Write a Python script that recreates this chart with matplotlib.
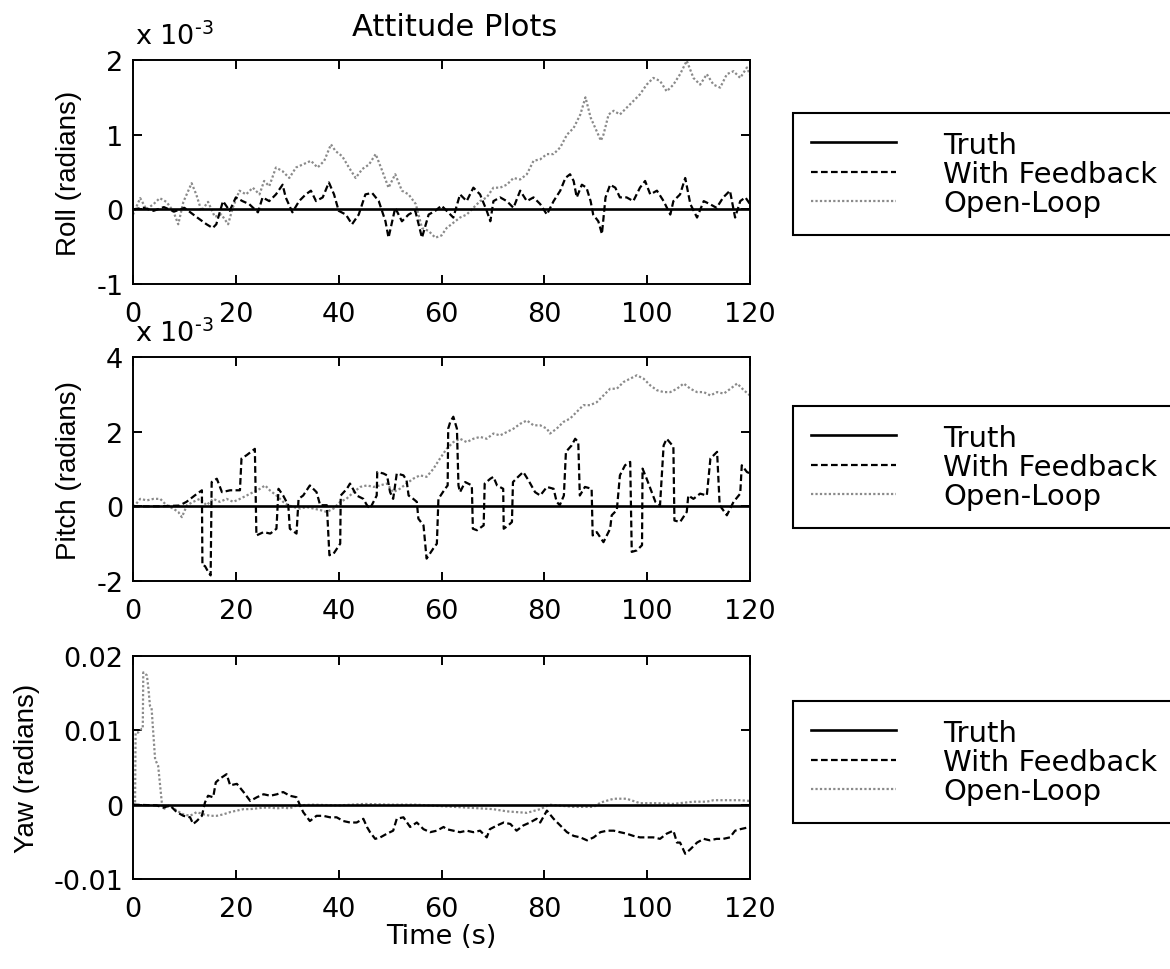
import matplotlib
matplotlib.use('Agg')
import matplotlib.pyplot as plt

plt.rcParams['font.family'] = ['DejaVu Sans']
plt.rcParams['axes.unicode_minus'] = False

# Time axis limits / ticks (seconds)
time_ticks = [0, 20, 40, 60, 80, 100, 120]

# Truth is zero for every axis
truth_t = [0, 120]
truth_v = [0, 0]

# Roll, in units of 1e-3 rad
roll_fb_t = [0, 2, 4, 6, 8, 10, 12.5, 14.3, 15.5, 16.2, 17.5, 18.8, 20, 21.3, 22.6, 24.3, 25.2, 26.5,
             27.8, 29.1, 29.7, 31, 32.3, 33.6, 34.6, 35.6, 36.9, 38.1, 39.1, 40, 41.4, 42.6, 43.9, 45.2,
             46.5, 47.8, 49.1, 49.7, 51, 52.3, 53.6, 54.9, 56.2, 57.5, 58.8, 60, 61, 62.3, 63.6, 64.9,
             66.2, 67.5, 68.8, 69.5, 70.1, 71.4, 72.7, 74, 75.3, 76.6, 77.9, 79.2, 80.5, 81.8, 83.1, 84.1,
             85, 85.7, 86.3, 87.3, 88.2, 89, 89.5, 90.5, 91.2, 91.9, 92.8, 93.8, 94.7, 96, 97.3, 98.6,
             99.6, 100.6, 101.9, 103.2, 104.5, 105.1, 106.4, 107.4, 108.4, 109.7, 111, 112.2, 113.5,
             114.8, 116.1, 117.1, 118.1, 119.1, 120]
roll_fb = [0, 0.02, -0.02, 0.03, -0.03, 0.02, -0.11, -0.2, -0.25, -0.2, 0.11, -0.02, 0.16, 0.11, 0.07,
           -0.04, 0.16, 0.11, 0.2, 0.33, 0.16, -0.04, 0.11, 0.2, 0.25, 0.11, 0.16, 0.36, 0.2, -0.02, -0.07,
           -0.2, -0.07, 0.2, 0.22, 0.11, -0.16, -0.38, 0.02, -0.16, -0.07, -0.02, -0.38, -0.07, -0.02, 0.05,
           -0.02, -0.11, 0.2, 0.11, 0.29, 0.2, -0.02, -0.16, 0.11, 0.16, 0.11, 0.02, 0.25, 0.11, 0.16, 0.07,
           -0.07, 0.11, 0.25, 0.42, 0.47, 0.38, 0.16, 0.33, 0.29, 0.11, -0.07, -0.16, -0.33, 0.16, 0.33,
           0.29, 0.16, 0.16, 0.11, 0.29, 0.38, 0.2, 0.25, 0.11, -0.07, 0.11, 0.2, 0.42, 0.07, -0.11, 0.11,
           0.07, 0.02, 0.16, 0.25, -0.11, 0.11, 0.16, 0.07]
roll_ol_t = [0, 1.4, 2.6, 4, 5.2, 6.5, 7.8, 8.8, 9.8, 11.4, 12.3, 13.3, 14.6, 15.9, 17.2, 18.5, 19.4, 20.7,
             22, 23.3, 24.6, 25.5, 26.5, 27.8, 29.1, 30.4, 31.7, 33, 34.6, 35.9, 37.2, 38.5, 39.4, 40.7,
             42, 43.3, 44.6, 45.9, 47.2, 48.5, 49.7, 51, 52.3, 53.6, 55, 56.2, 57.5, 58.8, 60, 61, 62.3,
             63.6, 64.9, 66.2, 67.5, 68.8, 70.1, 71.4, 72.7, 74, 75.3, 76.6, 77.9, 79.2, 80.5, 81.8, 83.1,
             84.4, 85.7, 87, 88, 89, 89.9, 91, 91.5, 92.5, 93.5, 94.7, 96, 97.3, 98.6, 99.9, 101.2, 102.5,
             103.8, 105.1, 106.4, 107.7, 109, 110.3, 111.6, 112.9, 114.2, 115.5, 116.8, 118.1, 119.4, 120]
roll_ol = [-0.07, 0.15, 0, 0.07, 0.15, 0.1, -0.02, -0.2, 0.1, 0.35, 0.2, -0.02, 0.1, -0.1, -0.07, -0.2,
           0.02, 0.25, 0.2, 0.29, 0.2, 0.38, 0.31, 0.56, 0.51, 0.42, 0.56, 0.6, 0.65, 0.56, 0.65, 0.87, 0.78,
           0.71, 0.56, 0.42, 0.54, 0.6, 0.74, 0.51, 0.29, 0.47, 0.25, 0.2, 0.07, -0.25, -0.29, -0.38, -0.35,
           -0.25, -0.18, -0.11, -0.07, 0.02, 0.11, 0.16, 0.29, 0.29, 0.33, 0.42, 0.4, 0.47, 0.65, 0.67, 0.74,
           0.74, 0.83, 1.0, 1.09, 1.27, 1.5, 1.23, 1.09, 0.92, 1.0, 1.27, 1.32, 1.27, 1.36, 1.45, 1.54, 1.67,
           1.76, 1.72, 1.58, 1.67, 1.81, 1.99, 1.76, 1.67, 1.81, 1.67, 1.63, 1.81, 1.85, 1.76, 1.9, 1.8]

# Pitch, in units of 1e-3 rad
pitch_fb_t = [0, 5, 9, 10.4, 12, 13.4, 13.5, 14, 14.6, 15.1, 15.3, 16.3, 17.3, 18.9, 20.8, 21.1, 22.1,
              23.7, 24, 25.4, 26.7, 27.9, 28.3, 29.2, 30.2, 30.5, 31.8, 32.2, 33.1, 34.4, 35.7, 36.4, 37.7,
              38.2, 39, 40.3, 40.4, 41.6, 42.2, 43.5, 44.8, 45.5, 46.1, 47.4, 47.5, 48.7, 49.4, 50, 50.6,
              51.3, 52.6, 53.2, 53.6, 54.5, 55.2, 55.5, 56.5, 57.1, 58.4, 59.1, 59.4, 60.7, 61.2, 61.3,
              61.7, 62.3, 63, 63.3, 63.6, 64.6, 65.9, 66.1, 66.9, 68.2, 68.4, 69.5, 70.1, 70.8, 72, 72.1,
              73, 73.7, 73.9, 74.9, 75.9, 76.9, 78.2, 79.2, 80.5, 81.8, 82.4, 83, 83.8, 84.2, 85.3, 86,
              86.6, 86.9, 87.9, 89.2, 89.4, 90.2, 91.5, 92.8, 93.1, 94.1, 94.7, 95.7, 96.7, 97, 98, 99,
              99.1, 99.9, 100.9, 101.6, 102.5, 103.2, 103.8, 105.1, 105.3, 106.4, 107.7, 108, 109, 110.3,
              111.6, 112.3, 113.6, 114.1, 115.5, 116.8, 118.1, 118.4, 119.4, 120]
pitch_fb = [0, 0, 0.02, 0.12, 0.29, 0.43, -1.58, -1.6, -1.75, -1.85, 0.65, 0.74, 0.38, 0.43, 0.43, 1.28,
            1.37, 1.54, -0.78, -0.69, -0.73, -0.6, 0.47, 0.29, 0.03, -0.6, -0.73, 0.2, 0.29, 0.56, 0.38,
            0.03, 0.03, -1.31, -1.27, -1.0, 0.29, 0.47, 0.61, 0.29, 0.2, 0.03, -0.06, 0.29, 0.92, 0.88, 0.83,
            0.38, 0.2, 0.88, 0.83, 0.7, 0.29, 0.2, 0.12, -0.33, -0.51, -1.4, -1.13, -1.0, 0.2, 0.47, 0.56,
            2.08, 2.26, 2.4, 2.08, 0.56, 0.38, 0.65, 0.56, -0.6, -0.64, -0.51, 0.61, 0.74, 0.79, 0.56, 0.47,
            -0.6, -0.51, -0.42, 0.65, 0.79, 0.92, 0.7, 0.38, 0.29, 0.52, 0.47, 0.12, 0.03, 0.29, 1.46, 1.63,
            1.81, 1.72, 0.29, 0.52, 0.47, -0.78, -0.69, -0.96, -0.6, -0.24, -0.1, 0.83, 1.1, 1.19, -1.22,
            -1.18, -1.04, 1.01, 0.74, 0.38, 0.12, 0.03, 1.63, 1.81, 1.6, -0.38, -0.42, -0.15, 0.29, 0.2,
            0.34, 0.29, 1.28, 1.46, 0.03, -0.24, 0.12, 0.34, 1.1, 0.92, 0.88]
pitch_ol_t = [0, 0.4, 1.4, 2.7, 4, 5.3, 6.5, 7.8, 8.8, 9.5, 10.5, 11.7, 13, 14.3, 15.6, 16.9, 18.2, 19.5,
              20.8, 22.1, 23.4, 24.7, 25.7, 26.6, 27.9, 29.2, 30.2, 31.2, 32.5, 33.8, 35.1, 36.4, 37.7, 39,
              40.3, 41.5, 42.9, 44.2, 45.5, 46.8, 48, 49.4, 50.6, 51.9, 53.2, 54.5, 55.8, 57.1, 58.4, 59.7,
              61, 62.3, 63.6, 64.9, 66.2, 67.5, 68.8, 70.1, 71.4, 72.7, 74, 75.3, 76.6, 77.9, 79.2, 80.5,
              81.1, 82.4, 83.7, 85, 86.3, 87.6, 88.9, 90.2, 91.5, 92.8, 94.1, 95.4, 96.7, 98, 99.3, 100.6,
              101.9, 103.2, 104.5, 105.8, 107.1, 108.4, 109.7, 111, 112.3, 113.6, 114.9, 116.2, 117.5,
              118.8, 120]
pitch_ol = [0, 0.03, 0.2, 0.16, 0.2, 0.2, 0.03, -0.06, -0.15, -0.29, 0.03, 0.12, 0.2, 0.03, 0.2, 0.12,
            0.2, 0.12, 0.2, 0.29, 0.38, 0.47, 0.56, 0.43, 0.29, 0.12, 0.03, -0.02, -0.06, -0.02, -0.06, -0.1,
            -0.15, -0.06, 0.12, 0.2, 0.38, 0.52, 0.56, 0.52, 0.56, 0.61, 0.38, 0.47, 0.61, 0.74, 0.83, 0.79,
            1.0, 1.28, 1.54, 1.72, 1.81, 1.72, 1.81, 1.86, 1.81, 1.95, 1.9, 1.99, 2.08, 2.21, 2.3, 2.17,
            2.17, 2.08, 1.95, 2.08, 2.26, 2.35, 2.53, 2.71, 2.71, 2.79, 2.97, 3.15, 3.15, 3.33, 3.42, 3.51,
            3.42, 3.24, 3.11, 3.06, 3.06, 3.15, 3.29, 3.15, 3.06, 3.06, 2.97, 3.06, 3.02, 3.15, 3.29, 3.11,
            2.97]

# Yaw, rad
yaw_fb_t = [0, 4.6, 5.9, 7.2, 8.5, 9.8, 11.1, 11.7, 12.4, 13.4, 14, 14.6, 15.6, 16.1, 16.9, 18.2, 18.9,
            20.2, 21.5, 22.8, 24.1, 25.4, 26.7, 28, 29.2, 30.5, 31.8, 32.5, 33.1, 34.4, 35.7, 37, 38.3,
            39.6, 40.9, 42.2, 43.5, 44.8, 45.5, 46.1, 47.1, 48.1, 49.4, 50.6, 51.3, 52.6, 53.9, 55.2,
            56.5, 57.8, 59.1, 60.4, 61, 62.3, 63.6, 64.9, 66.2, 67.5, 68.8, 69.4, 70.8, 72.1, 73.4, 74.6,
            75.9, 77.2, 78.5, 79.2, 80.5, 81.8, 83.1, 84.4, 85.7, 87, 88.3, 89.6, 90.9, 92.2, 93.5, 94.7,
            96, 97.3, 98.6, 99.9, 101.2, 102.5, 103.8, 105.1, 105.8, 106.4, 107.4, 108.4, 109.7, 111,
            112.2, 113.5, 114.8, 116.1, 117.1, 118.1, 120]
yaw_fb = [0, -0.0001, -0.0004, -0.0001, -0.001, -0.0015, -0.0017, -0.0026, -0.0022, -0.0015, 0.0003,
          0.0012, 0.001, 0.003, 0.0035, 0.0041, 0.0026, 0.0028, 0.0017, 0.0005, 0.001, 0.0014, 0.0012,
          0.0014, 0.0017, 0.0012, 0.001, -0.0001, -0.001, -0.0022, -0.0015, -0.0015, -0.0017, -0.0017,
          -0.0022, -0.0024, -0.0024, -0.0019, -0.003, -0.0037, -0.0046, -0.0044, -0.0039, -0.0035,
          -0.0019, -0.0017, -0.003, -0.0024, -0.0033, -0.0037, -0.0035, -0.003, -0.0033, -0.0035,
          -0.0037, -0.0035, -0.0037, -0.0035, -0.0044, -0.0033, -0.0028, -0.0024, -0.0026, -0.0035,
          -0.0028, -0.0024, -0.0019, -0.0024, -0.0008, -0.0019, -0.0028, -0.0037, -0.0042, -0.0044,
          -0.0048, -0.0044, -0.0037, -0.0035, -0.0035, -0.0037, -0.0039, -0.0042, -0.0044, -0.0044,
          -0.0044, -0.0046, -0.0039, -0.0035, -0.0051, -0.0051, -0.0066, -0.006, -0.0051, -0.0046,
          -0.0048, -0.0046, -0.0046, -0.0044, -0.0035, -0.0033, -0.003]
yaw_ol_t = [0, 0.4, 0.5, 1, 1.7, 1.9, 2, 2.7, 3, 3.3, 3.6, 4.3, 4.9, 5.6, 5.9, 7.2, 8.5, 9.8, 11.1, 12.4,
            13.7, 15, 16.3, 17.6, 18.9, 20.2, 21.5, 22.8, 24.1, 25.4, 26.7, 28, 29.2, 30.5, 31.8, 35, 40,
            45, 50, 55, 60, 65, 70, 72.7, 76.6, 79.2, 81, 85.7, 89.6, 91, 93.5, 96, 98.6, 102, 105, 109,
            111.6, 112.9, 115, 118, 120]
yaw_ol = [0, 0, 0.0097, 0.0097, 0.0102, 0.0102, 0.0178, 0.0174, 0.0156, 0.0133, 0.0131, 0.0061, 0.0052,
          0.0003, -0.0006, -0.0001, -0.0008, -0.0013, -0.0015, -0.001, -0.0013, -0.0015, -0.0015,
          -0.0013, -0.001, -0.0008, -0.0006, -0.0006, -0.0005, -0.0004, -0.0004, -0.0005, -0.0004,
          -0.0005, -0.0001, 0, -0.0001, 0.0001, 0, 0, -0.0002, -0.0004, -0.0006, -0.0009, -0.0011,
          -0.0006, 0, -0.0003, -0.0003, 0.0003, 0.0008, 0.0008, 0.0002, 0.0002, 0.0001, 0.0004, 0.0004,
          0.0006, 0.0006, 0.0006, 0.0005]

ylabels = ['Roll (radians)', 'Pitch (radians)', 'Yaw (radians)']
yticks = [[-1, 0, 1, 2], [-2, 0, 2, 4], [-0.01, 0, 0.01, 0.02]]
yticklabels = [['-1', '0', '1', '2'], ['-2', '0', '2', '4'], ['-0.01', '0', '0.01', '0.02']]
legend_labels = ['Truth', 'With Feedback', 'Open-Loop']

series = [(roll_fb_t, roll_fb, roll_ol_t, roll_ol),
          (pitch_fb_t, pitch_fb, pitch_ol_t, pitch_ol),
          (yaw_fb_t, yaw_fb, yaw_ol_t, yaw_ol)]

fig = plt.figure(figsize=(11.7, 9.7), dpi=100)
W, H = 1170.0, 970.0
# pixel boxes of the three axes (top, bottom)
boxes = [(61, 285), (358, 582), (657, 880)]
legend_centers = [175, 468, 763]

for i, (top, bot) in enumerate(boxes):
    ax = fig.add_axes([133 / W, 1 - bot / H, 617 / W, (bot - top) / H])
    fb_t, fb, ol_t, ol = series[i]
    ax.plot(truth_t, truth_v, color='black', lw=1.9, zorder=4, label=legend_labels[0])
    ax.plot(fb_t, fb, color='black', lw=1.6, ls=(0, (3, 1.5)), zorder=3, label=legend_labels[1])
    ax.plot(ol_t, ol, color='#8a8a8a', lw=1.6, ls=(0, (1, 1)), zorder=2, label=legend_labels[2])

    ax.set_xlim(0, 120)
    ax.set_ylim(yticks[i][0], yticks[i][-1])
    ax.set_xticks(time_ticks)
    ax.set_yticks(yticks[i])
    ax.set_yticklabels(yticklabels[i])
    ax.tick_params(direction='in', length=6.5, width=1.4, labelsize=19.5,
                   top=True, right=True, pad=7)
    ax.tick_params(axis='x', pad=12)
    for sp in ax.spines.values():
        sp.set_linewidth(1.4)
    ax.set_ylabel(ylabels[i], fontsize=20, family='Liberation Sans', labelpad=10)

    if i < 2:
        ax.text(0.003, 1 + 16 / (bot - top), r'x 10$^{\text{-3}}$', transform=ax.transAxes,
                fontsize=19.5, va='baseline', ha='left')
    if i == 2:
        ax.set_xlabel('Time (s)', fontsize=19.5, labelpad=1)

    leg = ax.legend(loc='center left', bbox_to_anchor=(793 / W, 1 - legend_centers[i] / H),
                    bbox_transform=fig.transFigure, borderaxespad=0, fontsize=21,
                    handlelength=2.93, handletextpad=1.62, borderpad=0.6, labelspacing=0.05,
                    fancybox=False, framealpha=1, edgecolor='black')
    leg.get_frame().set_linewidth(1.5)

fig.text(455 / W, 1 - 27 / H, 'Attitude Plots', fontsize=22, ha='center', va='center')

fig.savefig('out.png', dpi=100)
